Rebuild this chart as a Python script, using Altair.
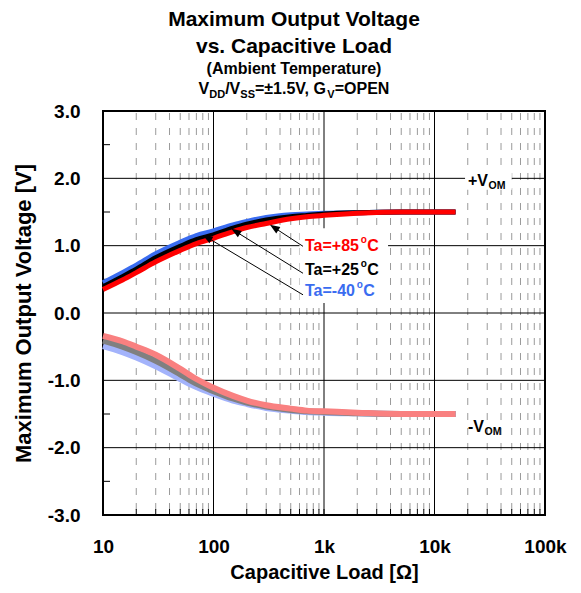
import math
import altair as alt
import pandas as pd

# ---------------- data ----------------
load_ohm = [10, 15, 20, 30, 50, 70, 100, 150, 200, 300, 500, 700, 1000, 2000, 5000, 10000, 15500]
vom_pos_m40 = [0.45, 0.60, 0.71, 0.88, 1.05, 1.15, 1.22, 1.31, 1.36, 1.42, 1.46, 1.47, 1.48, 1.49, 1.50, 1.50, 1.50]
vom_pos_25 = [0.39, 0.54, 0.65, 0.82, 0.99, 1.09, 1.16, 1.26, 1.32, 1.38, 1.43, 1.45, 1.47, 1.49, 1.50, 1.50, 1.50]
vom_pos_85 = [0.35, 0.49, 0.60, 0.76, 0.93, 1.03, 1.11, 1.21, 1.27, 1.33, 1.40, 1.43, 1.45, 1.48, 1.50, 1.50, 1.50]
vom_neg_m40 = [-0.49, -0.58, -0.66, -0.79, -0.98, -1.10, -1.20, -1.30, -1.35, -1.41, -1.45, -1.47, -1.48, -1.49, -1.50, -1.50, -1.50]
vom_neg_25 = [-0.41, -0.50, -0.58, -0.71, -0.91, -1.05, -1.16, -1.27, -1.33, -1.39, -1.44, -1.46, -1.47, -1.49, -1.50, -1.50, -1.50]
vom_neg_85 = [-0.34, -0.42, -0.50, -0.62, -0.83, -0.98, -1.11, -1.23, -1.30, -1.37, -1.42, -1.45, -1.46, -1.48, -1.50, -1.50, -1.50]

x_tick_values = [10, 100, 1000, 10000, 100000]
x_major_grid = [100, 1000, 10000]
x_minor_grid = [m * 10 ** d for d in range(1, 5) for m in range(2, 10)]
y_tick_values = [-3, -2, -1, 0, 1, 2, 3]
y_major_grid = [-2, -1, 0, 1, 2]
y_minor_ticks = [-2.5, -1.5, -0.5, 0.5, 1.5, 2.5]

ta_labels = [("Ta=+85", "#ff0000"), ("Ta=+25", "#000000"), ("Ta=-40", "#3a6cf0")]
ta_label_ohm = 673
ta_label_v = [0.995, 0.64, 0.32]
arrow_start_ohm = [646, 646, 646]
arrow_start_v = [0.99, 0.59, 0.27]
arrow_tip_ohm = [324, 145, 80]
arrow_tip_v = [1.31, 1.25, 1.16]
label_box = {"x1": [600], "x2": [3800], "y1": [0.15], "y2": [1.26]}
vom_box = {"x1": [18900], "x2": [50000], "y1": [1.83], "y2": [2.13]}
vom_label_ohm = 20100
vom_label_v = [1.96, -1.70]
vom_label_main = ["+V", "-V"]

title_lines = ["Maximum Output Voltage", "vs. Capacitive Load", "(Ambient Temperature)"]

# ---------------- layout ----------------
W, H = 442, 404
FONT = "Liberation Sans"
AW = {'T': 611, 'a': 556, '=': 584, '+': 584, '-': 333, 'o': 611, 'C': 722, 'V': 667, 'D': 722,
      '/': 278, 'S': 667, '\u00b1': 549, '.': 278, ',': 278, ' ': 278, 'G': 778, 'O': 778,
      'P': 667, 'E': 667, 'N': 722, 'M': 833}
for c in "0123456789":
    AW[c] = 556


def tw(s, size):
    return sum(AW.get(c, 600) for c in s) * size / 1000.0


def px(x):
    return math.log10(x / 10) / 4 * W


def py(y):
    return (3 - y) / 6 * H


def ix(p):
    return 10 * 10 ** (p * 4 / W)


def iy(p):
    return 3 - p * 6 / H


xs = alt.Scale(type="log", domain=[10, 100000], nice=False)
ys = alt.Scale(domain=[-3, 3], nice=False, zero=False)

x_axis = alt.Axis(values=x_tick_values,
                  labelExpr="datum.value >= 1000 ? (datum.value/1000) + 'k' : '' + datum.value",
                  title="Capacitive Load [Ω]", grid=False, ticks=False, domain=False,
                  labelFont=FONT, labelFontSize=19, labelFontWeight="bold", labelColor="black",
                  labelPadding=22, labelFlush=False, labelOverlap=False, labelBound=False,
                  titleFont=FONT, titleFontSize=20, titleFontWeight="bold", titleColor="black",
                  titlePadding=6)
y_axis = alt.Axis(values=y_tick_values,
                  labelExpr="(datum.value < 0 ? '-' : '') + format(abs(datum.value), '.1f')",
                  title="Maximum Output Voltage [V]", grid=False, ticks=False, domain=False,
                  labelFont=FONT, labelFontSize=19, labelFontWeight="bold", labelColor="black",
                  labelPadding=23, labelFlush=False, labelOverlap=False, labelBound=False,
                  titleFont=FONT, titleFontSize=22, titleFontWeight="bold", titleColor="black",
                  titlePadding=12)


def X(f="x"):
    return alt.X(f"{f}:Q", scale=xs, axis=x_axis)


def Y(f="y"):
    return alt.Y(f"{f}:Q", scale=ys, axis=y_axis)


one = pd.DataFrame({"a": [0]})
layers = []

# grid
layers.append(alt.Chart(pd.DataFrame({"x": x_minor_grid})).mark_rule(
    color="#9a9a9a", strokeWidth=1, strokeDash=[7, 8]).encode(x=X(), y=alt.value(2), y2=alt.value(H)))
layers.append(alt.Chart(pd.DataFrame({"x": x_major_grid})).mark_rule(
    color="#000000", strokeWidth=1).encode(x=X(), y=alt.value(0), y2=alt.value(H)))
layers.append(alt.Chart(pd.DataFrame({"y": y_major_grid})).mark_rule(
    color="#000000", strokeWidth=1).encode(y=Y(), x=alt.value(0), x2=alt.value(W)))

# white boxes behind annotations
for box in (label_box, vom_box):
    layers.append(alt.Chart(pd.DataFrame(box)).mark_rect(color="white").encode(
        x=X("x1"), x2="x2", y=Y("y1"), y2="y2"))

# inner ticks
layers.append(alt.Chart(pd.DataFrame({"x": x_minor_grid + x_tick_values})).mark_rule(
    color="#000000", strokeWidth=1).encode(x=X(), y=alt.value(H), y2=alt.value(H - 6)))
layers.append(alt.Chart(pd.DataFrame({"y": y_minor_ticks})).mark_rule(
    color="#000000", strokeWidth=1).encode(y=Y(), x=alt.value(0), x2=alt.value(7)))

# curves
series = [
    (vom_pos_m40, "#3a6cf0", 5),
    (vom_pos_25, "#000000", 5),
    (vom_pos_85, "#ff0000", 5),
    (vom_neg_m40, "#a3b3fb", 6),
    (vom_neg_25, "#808080", 6),
    (vom_neg_85, "#f98080", 6),
]
for vals, col, sw in series:
    df = pd.DataFrame({"x": load_ohm, "y": vals})
    layers.append(alt.Chart(df).mark_line(color=col, strokeWidth=sw, interpolate="monotone").encode(
        x=X(), y=Y()))

# arrows
HEAD = 5.0
sx_l, sy_l, tx_l, ty_l, hx_l, hy_l, ang_l = [], [], [], [], [], [], []
for sxo, syv, txo, tyv in zip(arrow_start_ohm, arrow_start_v, arrow_tip_ohm, arrow_tip_v):
    x0, y0, x1, y1 = px(sxo), py(syv), px(txo), py(tyv)
    dx, dy = x1 - x0, y1 - y0
    L = math.hypot(dx, dy)
    ux, uy = dx / L, dy / L
    hxp, hyp = x1 - ux * HEAD, y1 - uy * HEAD
    ang = math.degrees(math.atan2(dx, -dy)) % 360
    sx_l.append(sxo); sy_l.append(syv)
    tx_l.append(ix(hxp)); ty_l.append(iy(hyp))
    hx_l.append(ix(hxp)); hy_l.append(iy(hyp)); ang_l.append(ang)
arr = pd.DataFrame({"sx": sx_l, "sy": sy_l, "tx": tx_l, "ty": ty_l, "hx": hx_l, "hy": hy_l, "ang": ang_l})
layers.append(alt.Chart(arr).mark_rule(color="black", strokeWidth=1).encode(
    x=X("sx"), y=Y("sy"), x2="tx", y2="ty"))
layers.append(alt.Chart(arr).mark_point(shape="M0,-1L0.75,1L-0.75,1Z", filled=True, color="black",
                                        opacity=1, size=100, strokeWidth=0).encode(
    x=X("hx"), y=Y("hy"), angle=alt.Angle("ang:Q", scale=None)))


def text_layer(xv, yv, txt, size, color, dx=0, dy=0, align="left", baseline="middle"):
    df = pd.DataFrame({"x": [xv], "y": [yv], "t": [txt]})
    return alt.Chart(df).mark_text(align=align, baseline=baseline, dx=dx, dy=dy, font=FONT,
                                   fontSize=size, fontWeight="bold", color=color).encode(
        x=X(), y=Y(), text="t:N")


# temperature labels
for (main, col), yv in zip(ta_labels, ta_label_v):
    w1 = tw(main, 16)
    layers.append(text_layer(ta_label_ohm, yv, main, 16, col))
    layers.append(text_layer(ta_label_ohm, yv, "o", 10, col, dx=w1 + 0.5, dy=-6))
    layers.append(text_layer(ta_label_ohm, yv, "C", 16, col, dx=w1 + tw("o", 10) + 1))

# VOM labels
for main, yv in zip(vom_label_main, vom_label_v):
    layers.append(text_layer(vom_label_ohm, yv, main, 16, "black"))
    layers.append(text_layer(vom_label_ohm, yv, "OM", 10.5, "black", dx=tw(main, 16) + 0.5, dy=5))

# title block (pixel layout above the plot)
CX = 191
title_y = [-85, -58, -37]
title_size = [21, 21, 16]
for txt, yy, sz in zip(title_lines, title_y, title_size):
    layers.append(alt.Chart(one).mark_text(align="center", baseline="alphabetic", font=FONT,
                                           fontSize=sz, fontWeight="bold", color="black").encode(
        x=alt.value(CX), y=alt.value(yy), text=alt.value(txt)))

pieces = [("V", 16, 0), ("DD", 11, 4), ("/V", 16, 0), ("SS", 11, 4), ("=\u00b11.5V, G", 16, 0),
          ("V", 11, 4), ("=OPEN", 16, 0)]
total = sum(tw(s, z) for s, z, _ in pieces)
cur = CX - total / 2
for s, z, off in pieces:
    layers.append(alt.Chart(one).mark_text(align="left", baseline="alphabetic", font=FONT,
                                           fontSize=z, fontWeight="bold", color="black").encode(
        x=alt.value(cur), y=alt.value(-17 + off), text=alt.value(s)))
    cur += tw(s, z)

chart = alt.layer(*layers).properties(
    width=W, height=H,
    padding={"left": 95, "top": 103, "right": 24, "bottom": 70},
    autosize=alt.AutoSizeParams(type="none"),
    background="white",
).configure_view(stroke="black", strokeWidth=2)

chart.save("out.html", embed_options={"renderer": "svg", "actions": False})
